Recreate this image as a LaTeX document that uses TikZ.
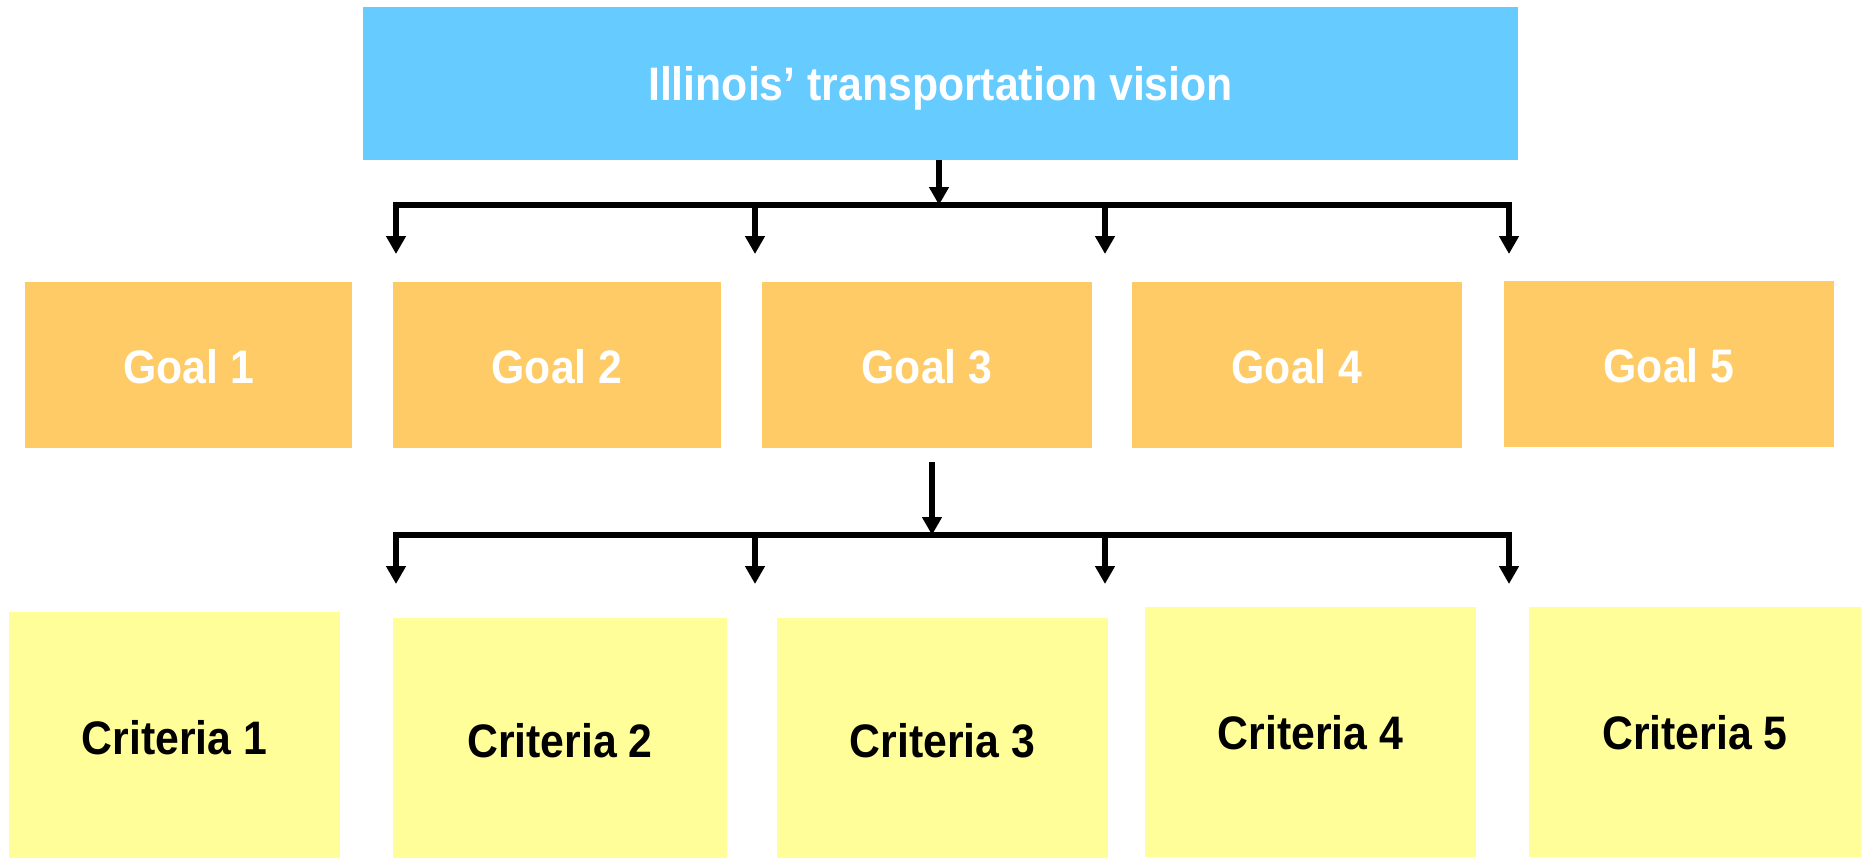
\documentclass[tikz,border=0pt]{standalone}
\usepackage{fontspec}
\newfontfamily\labfont{Liberation Sans}[FakeStretch=0.91]
\usetikzlibrary{arrows.meta}
\definecolor{visionblue}{HTML}{66CBFF}
\definecolor{goalorange}{HTML}{FECB67}
\definecolor{crityellow}{HTML}{FFFE99}
\tikzset{
  box/.style={inner sep=0pt, outer sep=0pt, text depth=0pt, font=\labfont\bfseries\fontsize{23.5pt}{27pt}\selectfont},
  visionbox/.style={box, fill=visionblue, text=white},
  goalbox/.style={box, fill=goalorange, text=white},
  critbox/.style={box, fill=crityellow, text=black},
  bar/.style={line width=2.8pt, line cap=rect},
  arr/.style={line width=2.8pt, -{Triangle[width=9.5pt,length=9pt]}},
}
\begin{document}
\begin{tikzpicture}[x=0.5pt,y=-0.5pt]
\useasboundingbox (0,0) rectangle (1864,858);
% vision
\node[visionbox, minimum width=577.5pt, minimum height=76.5pt] (vision) at (940.5,83.5) {Illinois’ transportation vision};
% goals
\node[goalbox, minimum width=163.5pt, minimum height=83pt] (g1) at (188.5,365) {\raisebox{-1pt}{Goal 1}};
\node[goalbox, minimum width=164pt, minimum height=83pt] (g2) at (557,365) {\raisebox{-1pt}{Goal 2}};
\node[goalbox, minimum width=165pt, minimum height=83pt] (g3) at (927,365) {\raisebox{-1pt}{Goal 3}};
\node[goalbox, minimum width=165pt, minimum height=83pt] (g4) at (1297,365) {\raisebox{-1pt}{Goal 4}};
\node[goalbox, minimum width=165pt, minimum height=83pt] (g5) at (1669,364) {\raisebox{-1pt}{Goal 5}};
% criteria
\node[critbox, minimum width=165.5pt, minimum height=123pt] (c1) at (174.5,735) {\raisebox{-2pt}{Criteria 1}};
\node[critbox, minimum width=167pt, minimum height=120pt] (c2) at (560,738) {\raisebox{-2pt}{Criteria 2}};
\node[critbox, minimum width=165.5pt, minimum height=120pt] (c3) at (942.5,738) {\raisebox{-2pt}{Criteria 3}};
\node[critbox, minimum width=165.5pt, minimum height=125pt] (c4) at (1310.5,732) {Criteria 4};
\node[critbox, minimum width=166pt, minimum height=125pt] (c5) at (1695,732) {Criteria 5};
% upper distribution
\coordinate (vbar) at (939,205);
\coordinate (a1) at (396,205);
\coordinate (a2) at (755,205);
\coordinate (a3) at (1105,205);
\coordinate (a4) at (1509,205);
\coordinate (ta1) at (396,254);
\coordinate (ta2) at (755,254);
\coordinate (ta3) at (1105,254);
\coordinate (ta4) at (1509,254);
\draw[arr] (vision.south -| vbar) -- (vbar);
\draw[bar] (a1) -- (a4);
\foreach \i in {1,...,4} \draw[arr] (a\i) -- (ta\i);
% lower distribution
\coordinate (gs) at (932,462);
\coordinate (gbar) at (932,535);
\coordinate (b1) at (396,535);
\coordinate (b2) at (755,535);
\coordinate (b3) at (1105,535);
\coordinate (b4) at (1509,535);
\coordinate (tb1) at (396,584);
\coordinate (tb2) at (755,584);
\coordinate (tb3) at (1105,584);
\coordinate (tb4) at (1509,584);
\draw[arr] (gs) -- (gbar);
\draw[bar] (b1) -- (b4);
\foreach \i in {1,...,4} \draw[arr] (b\i) -- (tb\i);
\end{tikzpicture}
\end{document}
